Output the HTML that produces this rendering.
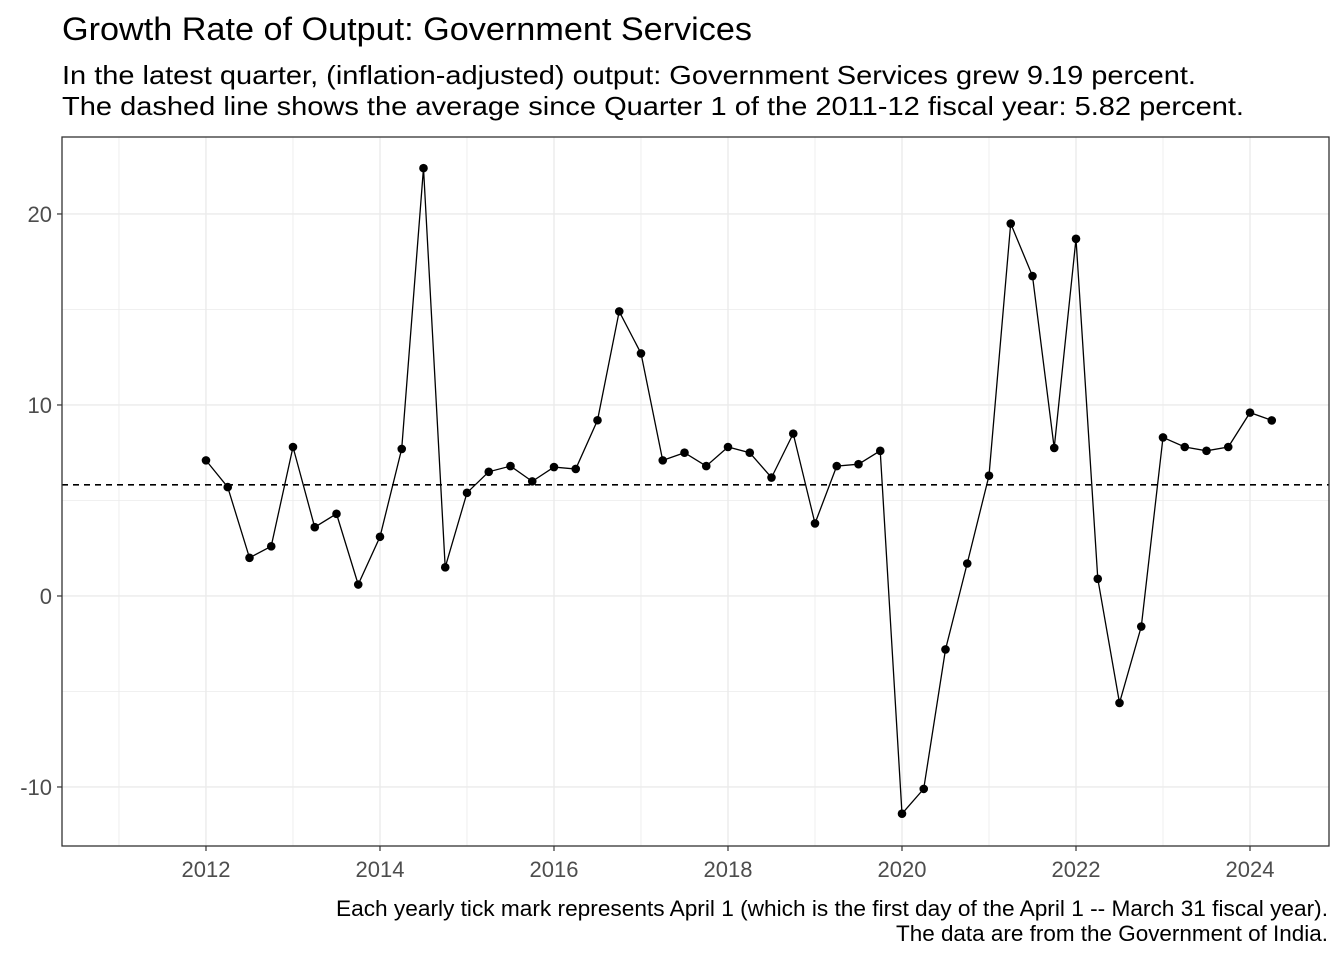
<!DOCTYPE html>
<html><head><meta charset="utf-8">
<style>
body{margin:0;background:#fff;font-family:"Liberation Sans",Arial,sans-serif;}
svg text{font-family:"Liberation Sans",Arial,sans-serif;}
</style></head>
<body>
<svg id="chart" width="1344" height="960" xmlns="http://www.w3.org/2000/svg">
<text x="62" y="40" font-size="32" fill="#000" textLength="690" lengthAdjust="spacingAndGlyphs">Growth Rate of Output: Government Services</text>
<text x="62" y="84" font-size="26" fill="#000" textLength="1134" lengthAdjust="spacingAndGlyphs">In the latest quarter, (inflation-adjusted) output: Government Services grew 9.19 percent.</text>
<text x="62" y="115" font-size="26" fill="#000" textLength="1182" lengthAdjust="spacingAndGlyphs">The dashed line shows the average since Quarter 1 of the 2011-12 fiscal year: 5.82 percent.</text>
<g id="grid"></g>
<g id="axes"></g>
<g id="marks"></g>
<rect x="62" y="137" width="1267" height="709" fill="none" stroke="#333" stroke-width="1.3"/>
<text x="336" y="916" font-size="22" fill="#000" textLength="992" lengthAdjust="spacingAndGlyphs">Each yearly tick mark represents April 1 (which is the first day of the April 1 -- March 31 fiscal year).</text>
<text x="896" y="941" font-size="22" fill="#000" textLength="432" lengthAdjust="spacingAndGlyphs">The data are from the Government of India.</text>
</svg>
<script>
const quarters = [];
for (let i = 0; i < 50; i++) quarters.push(2012 + i * 0.25);
const growth = [7.1,5.7,2.0,2.6,7.8,3.6,4.3,0.6,3.1,7.7,22.4,1.5,5.4,6.5,6.8,6.0,6.75,6.65,9.2,14.9,12.7,7.1,7.5,6.8,7.8,7.5,6.2,8.5,3.8,6.8,6.9,7.6,-11.4,-10.1,-2.8,1.7,6.3,19.5,16.75,7.75,18.7,0.9,-5.6,-1.6,8.3,7.8,7.6,7.8,9.6,9.19];
const xTicks = [2012,2014,2016,2018,2020,2022,2024];
const xMinor = [2011,2013,2015,2017,2019,2021,2023];
const yTicks = [-10,0,10,20];
const yMinor = [-5,5,15];
const average = 5.82;

const X0=62,X1=1329,Y0=137,Y1=846;
const xMin=2010.345,xMax=2024.908,yMin=-13.09,yMax=24.03;
const sx=v=>X0+(v-xMin)/(xMax-xMin)*(X1-X0);
const sy=v=>Y1-(v-yMin)/(yMax-yMin)*(Y1-Y0);
const NS="http://www.w3.org/2000/svg";
function mk(tag,attrs,parent){const e=document.createElementNS(NS,tag);for(const k in attrs)e.setAttribute(k,attrs[k]);parent.appendChild(e);return e;}
const grid=document.getElementById('grid'),axes=document.getElementById('axes'),marks=document.getElementById('marks');

xMinor.forEach(v=>{const l=mk('line',{x1:sx(v),x2:sx(v),y1:Y0,y2:Y1,stroke:'#ebebeb','stroke-width':0.8},grid);

});
yMinor.forEach(v=>{const l=mk('line',{x1:X0,x2:X1,y1:sy(v),y2:sy(v),stroke:'#ebebeb','stroke-width':0.8},grid);

});
xTicks.forEach(v=>{const l=mk('line',{x1:sx(v),x2:sx(v),y1:Y0,y2:Y1,stroke:'#ebebeb','stroke-width':1.4},grid);


const t=mk('line',{x1:sx(v),x2:sx(v),y1:Y1,y2:Y1+5,stroke:'#333','stroke-width':1.2},axes);


const tx=mk('text',{x:sx(v),y:Y1+31,'font-size':22,fill:'#4d4d4d','text-anchor':'middle'},axes);tx.textContent=v;

});
yTicks.forEach(v=>{const l=mk('line',{x1:X0,x2:X1,y1:sy(v),y2:sy(v),stroke:'#ebebeb','stroke-width':1.4},grid);


const t=mk('line',{x1:X0-5,x2:X0,y1:sy(v),y2:sy(v),stroke:'#333','stroke-width':1.2},axes);


const tx=mk('text',{x:X0-10,y:sy(v)+8,'font-size':22,fill:'#4d4d4d','text-anchor':'end'},axes);tx.textContent=v;

});

const avg=mk('line',{x1:X0,x2:X1,y1:sy(average),y2:sy(average),stroke:'#000','stroke-width':1.6,'stroke-dasharray':'6,5'},marks);


const pts=quarters.map((q,i)=>sx(q).toFixed(1)+','+sy(growth[i]).toFixed(1)).join(' ');
const pl=mk('polyline',{points:pts,fill:'none',stroke:'#000','stroke-width':1.3},marks);


quarters.forEach((q,i)=>{const c=mk('circle',{cx:sx(q),cy:sy(growth[i]),r:4.3,fill:'#000'},marks);

});
</script>
</body></html>
